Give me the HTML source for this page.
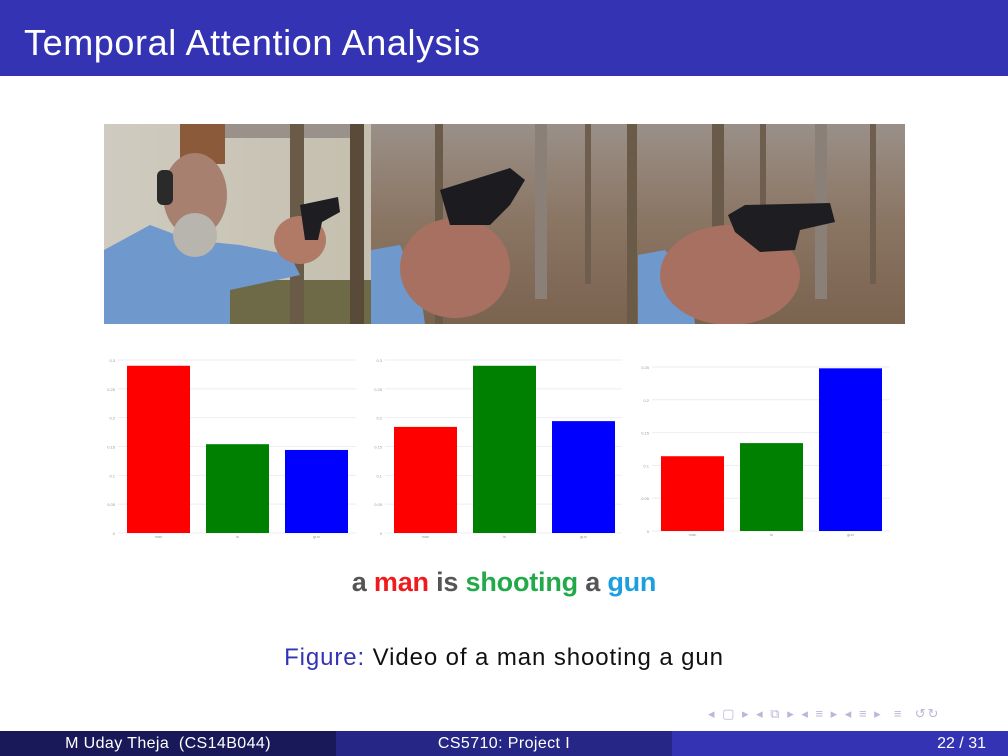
<!DOCTYPE html>
<html><head><meta charset="utf-8">
<style>
html,body{margin:0;padding:0;background:#fff;}
body{width:1008px;height:756px;position:relative;overflow:hidden;font-family:"Liberation Sans","DejaVu Sans",sans-serif;}
.abs{position:absolute;}
</style></head>
<body>
<div class="abs" style="left:0;top:0;width:1008px;height:76px;background:#3333b3;"></div>
<div class="abs" style="left:24px;top:22px;color:#fff;font-size:36px;line-height:42px;letter-spacing:0.6px;">Temporal Attention Analysis</div>

<svg class="abs" style="left:104px;top:124px" width="801" height="200" viewBox="104 124 801 200">
  <defs>
    <linearGradient id="forest" x1="0" y1="0" x2="0" y2="1">
      <stop offset="0" stop-color="#9a9088"/><stop offset="0.5" stop-color="#8a7462"/><stop offset="1" stop-color="#7a6450"/>
    </linearGradient>
    <linearGradient id="wall" x1="0" y1="0" x2="1" y2="0">
      <stop offset="0" stop-color="#cfcbc0"/><stop offset="1" stop-color="#c4bfae"/>
    </linearGradient>
  </defs>
  <g>
    <rect x="104" y="124" width="267" height="200" fill="url(#wall)"/>
    <rect x="225" y="124" width="125" height="14" fill="#9a928a"/>
    <rect x="180" y="124" width="45" height="40" fill="#8a5a3a"/>
    <rect x="230" y="280" width="141" height="44" fill="#6e6a48"/>
    <rect x="290" y="124" width="14" height="200" fill="#6a5a48"/>
    <rect x="350" y="124" width="14" height="200" fill="#5a4a3a"/>
    <polygon points="104,250 150,225 190,240 240,245 290,255 300,275 230,290 230,324 104,324" fill="#6f98cc"/>
    <ellipse cx="195" cy="195" rx="32" ry="42" fill="#a88070"/>
    <ellipse cx="195" cy="235" rx="22" ry="22" fill="#b8b4ae"/>
    <rect x="157" y="170" width="16" height="35" rx="6" fill="#2a2a2a"/>
    <ellipse cx="300" cy="240" rx="26" ry="24" fill="#b07a66"/>
    <polygon points="300,205 338,197 340,212 322,222 318,240 305,240" fill="#1e1e22"/>
  </g>
  <g>
    <rect x="371" y="124" width="267" height="200" fill="url(#forest)"/>
    <rect x="435" y="124" width="8" height="200" fill="#6a5a4a"/>
    <rect x="535" y="124" width="12" height="175" fill="#8a8078"/>
    <rect x="627" y="124" width="10" height="200" fill="#6a5a48"/>
    <rect x="585" y="124" width="6" height="160" fill="#6e5e4e"/>
    <polygon points="371,250 400,245 420,290 425,324 371,324" fill="#6f98cc"/>
    <ellipse cx="455" cy="268" rx="55" ry="50" fill="#a87060"/>
    <polygon points="440,190 510,168 525,180 510,205 490,225 450,225" fill="#1c1c20"/>
  </g>
  <g>
    <rect x="638" y="124" width="267" height="200" fill="url(#forest)"/>
    <rect x="712" y="124" width="12" height="180" fill="#6a5a4a"/>
    <rect x="815" y="124" width="12" height="175" fill="#8a8078"/>
    <rect x="760" y="124" width="6" height="150" fill="#6e5e4e"/>
    <rect x="870" y="124" width="6" height="160" fill="#6e5e4e"/>
    <polygon points="638,255 665,250 690,280 695,324 638,324" fill="#6f98cc"/>
    <ellipse cx="730" cy="275" rx="70" ry="50" fill="#a87060"/>
    <polygon points="728,215 745,205 830,203 835,222 800,230 795,250 760,252 735,232" fill="#1e1e22"/>
  </g>
</svg>

<svg class="abs" id="charts" style="left:0;top:0" width="1008" height="560"></svg>

<div class="abs" style="left:0;width:1008px;top:565px;text-align:center;font-size:27px;font-weight:bold;line-height:34px;color:#555;letter-spacing:-0.2px;">a <span style="color:#ee1c1c">man</span> is <span style="color:#22aa4a">shooting</span> a <span style="color:#1a9fe0">gun</span></div>

<div class="abs" style="left:0;width:1008px;top:642px;text-align:center;font-size:24px;line-height:32px;color:#111;letter-spacing:0.9px;"><span style="color:#3333b3">Figure:</span> Video of a man shooting a gun</div>

<div class="abs" style="left:708px;top:706px;font-size:13px;color:#b8b8d8;letter-spacing:2px;">◂ ▢ ▸ ◂ ⧉ ▸ ◂ ≡ ▸ ◂ ≡ ▸ &nbsp;≡ &nbsp;↺↻</div>

<div class="abs" style="left:0;top:731px;width:336px;height:25px;background:#191959;color:#fff;font-size:16px;line-height:25px;text-align:center;letter-spacing:0.4px;">M Uday Theja &nbsp;(CS14B044)</div>
<div class="abs" style="left:336px;top:731px;width:336px;height:25px;background:#262686;color:#fff;font-size:16px;line-height:25px;text-align:center;letter-spacing:0.4px;">CS5710: Project I</div>
<div class="abs" style="left:672px;top:731px;width:336px;height:25px;background:#3333b3;color:#fff;font-size:16px;line-height:25px;text-align:right;box-sizing:border-box;padding-right:22px;">22 / 31</div>

<script>
const categories = ["man", "is", "gun"];
const frame1Values = [0.29, 0.154, 0.144];
const frame2Values = [0.184, 0.29, 0.194];
const frame3Values = [0.114, 0.134, 0.248];
const ticks12 = [0, 0.05, 0.1, 0.15, 0.2, 0.25, 0.3];
const ticks3 = [0, 0.05, 0.1, 0.15, 0.2, 0.25];
const barColors = ["#ff0000", "#008000", "#0000ff"];

const NS = "http://www.w3.org/2000/svg";
const svg = document.getElementById("charts");
function mk(tag, attrs) { const e = document.createElementNS(NS, tag); for (const k in attrs) e.setAttribute(k, attrs[k]); return e; }

const panels = [
  {values: frame1Values, ticks: ticks12, x0: 118, x1: 356, y0: 533, yTop: 360, barX: [127, 206, 285], bw: 63},
  {values: frame2Values, ticks: ticks12, x0: 385, x1: 622, y0: 533, yTop: 360, barX: [394, 473, 552], bw: 63},
  {values: frame3Values, ticks: ticks3, x0: 652, x1: 890, y0: 531, yTop: 367, barX: [661, 740, 819], bw: 63}
];

panels.forEach((p, pi) => {
  const maxV = p.ticks[p.ticks.length - 1];
  const ys = v => p.y0 - (v / maxV) * (p.y0 - p.yTop);
  const g = mk("g", {});
  
  
  svg.appendChild(g);
  p.ticks.forEach(t => {
    const line = mk("line", {x1: p.x0, x2: p.x1, y1: ys(t), y2: ys(t), stroke: "#eeeef4", "stroke-width": 1});
    
    
    g.appendChild(line);
    const lab = mk("text", {x: p.x0 - 3, y: ys(t) + 2, "font-size": 4, fill: "#999", "text-anchor": "end"});
    
    
    lab.textContent = t;
    g.appendChild(lab);
  });
  p.values.forEach((v, i) => {
    const r = mk("rect", {x: p.barX[i], y: ys(v), width: p.bw, height: p.y0 - ys(v), fill: barColors[i]});
    
    
    g.appendChild(r);
    const xl = mk("text", {x: p.barX[i] + p.bw / 2, y: p.y0 + 5, "font-size": 4, fill: "#999", "text-anchor": "middle"});
    
    
    xl.textContent = categories[i];
    g.appendChild(xl);
  });
});
</script>
</body></html>
